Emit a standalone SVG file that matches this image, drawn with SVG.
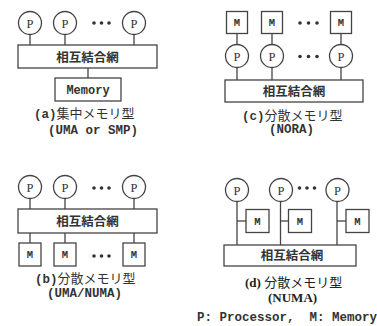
<svg xmlns="http://www.w3.org/2000/svg" width="377" height="326" viewBox="0 0 377 326">
<style>
.ln{stroke:#444;stroke-width:1.3;fill:none}
.bx{stroke:#444;stroke-width:1.3;fill:#fff}
.dot{fill:#333}
.p{font-family:"Liberation Serif",serif;font-size:12.5px;fill:#333;text-anchor:middle}
.m{font-family:"Liberation Mono",monospace;font-size:10.5px;font-weight:bold;fill:#333;text-anchor:middle}
.net{font-family:"Noto Sans CJK JP",sans-serif;font-size:12.5px;font-weight:bold;fill:#333;text-anchor:middle}
.mem{font-family:"Liberation Mono",monospace;font-size:12px;font-weight:bold;fill:#333;text-anchor:middle}
.lab{font-family:"Liberation Mono","Noto Sans CJK JP",monospace;font-size:12.5px;font-weight:bold;fill:#333}
.jp{font-family:"Noto Sans CJK JP",sans-serif;font-weight:normal;font-size:13px}
.serif{font-family:"Liberation Serif","Noto Sans CJK JP",serif;font-size:13px;font-weight:bold;fill:#222}
.note{font-family:"Liberation Mono",monospace;font-size:12.5px;font-weight:bold;fill:#333;white-space:pre}
</style>
<rect width="377" height="326" fill="#fff"/>
<g id="connectors">
  <line class="ln" x1="30" y1="34.5" x2="30" y2="45"/>
  <line class="ln" x1="65" y1="34.5" x2="65" y2="45"/>
  <line class="ln" x1="134" y1="34.5" x2="134" y2="45"/>
  <line class="ln" x1="88" y1="68" x2="88" y2="78"/>
  <line class="ln" x1="237" y1="33.5" x2="237" y2="44.5"/>
  <line class="ln" x1="272" y1="33.5" x2="272" y2="44.5"/>
  <line class="ln" x1="341" y1="33.5" x2="341" y2="44.5"/>
  <line class="ln" x1="237" y1="67.5" x2="237" y2="80"/>
  <line class="ln" x1="272" y1="67.5" x2="272" y2="80"/>
  <line class="ln" x1="341" y1="67.5" x2="341" y2="80"/>
  <line class="ln" x1="30" y1="198.5" x2="30" y2="209"/>
  <line class="ln" x1="65" y1="198.5" x2="65" y2="209"/>
  <line class="ln" x1="134" y1="198.5" x2="134" y2="209"/>
  <line class="ln" x1="30" y1="233" x2="30" y2="243"/>
  <line class="ln" x1="65" y1="233" x2="65" y2="243"/>
  <line class="ln" x1="134" y1="233" x2="134" y2="243"/>
  <line class="ln" x1="237" y1="201.5" x2="237" y2="245"/>
  <line class="ln" x1="280.5" y1="201.5" x2="280.5" y2="245"/>
  <line class="ln" x1="337" y1="201.5" x2="337" y2="245"/>
  <line class="ln" x1="237" y1="221" x2="246" y2="221"/>
  <line class="ln" x1="280.5" y1="221" x2="288.5" y2="221"/>
  <line class="ln" x1="337" y1="221" x2="346" y2="221"/>
</g>
<g id="a">
  <g id="a-p1"><circle class="bx" cx="30" cy="23" r="11.5"/><text class="p" x="30" y="27.5">P</text></g>
  <g id="a-p2"><circle class="bx" cx="65" cy="23" r="11.5"/><text class="p" x="65" y="27.5">P</text></g>
  <g id="a-p3"><circle class="bx" cx="134" cy="23" r="11.5"/><text class="p" x="134" y="27.5">P</text></g>
  <circle class="dot" cx="94" cy="23" r="1.8"/><circle class="dot" cx="101.5" cy="23" r="1.8"/><circle class="dot" cx="109" cy="23" r="1.8"/>
  <g id="a-net"><rect class="bx" x="18" y="45" width="139" height="23"/><text class="net" x="87.5" y="61.5">相互結合網</text></g>
  <g id="a-mem"><rect class="bx" x="55" y="78" width="66" height="23"/><text class="mem" x="88" y="94">Memory</text></g>
  <text class="lab" x="34" y="118">(a)<tspan class="jp">集中メモリ型</tspan></text>
  <text class="lab" x="48" y="134">(UMA or SMP)</text>
</g>
<g id="c">
  <g id="c-m1"><rect class="bx" x="226.5" y="11.5" width="21" height="22"/><text class="m" x="237" y="26">M</text></g>
  <g id="c-m2"><rect class="bx" x="261.5" y="11.5" width="21" height="22"/><text class="m" x="272" y="26">M</text></g>
  <g id="c-m3"><rect class="bx" x="330.5" y="11.5" width="21" height="22"/><text class="m" x="341" y="26">M</text></g>
  <circle class="dot" cx="300" cy="23" r="1.8"/><circle class="dot" cx="308.5" cy="23" r="1.8"/><circle class="dot" cx="317" cy="23" r="1.8"/>
  <g id="c-p1"><circle class="bx" cx="237" cy="56" r="11.5"/><text class="p" x="237" y="60.5">P</text></g>
  <g id="c-p2"><circle class="bx" cx="272" cy="56" r="11.5"/><text class="p" x="272" y="60.5">P</text></g>
  <g id="c-p3"><circle class="bx" cx="341" cy="56" r="11.5"/><text class="p" x="341" y="60.5">P</text></g>
  <circle class="dot" cx="300" cy="56.5" r="1.8"/><circle class="dot" cx="308.5" cy="56.5" r="1.8"/><circle class="dot" cx="317" cy="56.5" r="1.8"/>
  <g id="c-net"><rect class="bx" x="225" y="80" width="138" height="22"/><text class="net" x="294" y="95.5">相互結合網</text></g>
  <text class="lab" x="242" y="119.5">(c)<tspan class="jp">分散メモリ型</tspan></text>
  <text class="lab" x="269" y="133">(NORA)</text>
</g>
<g id="b">
  <g id="b-p1"><circle class="bx" cx="30" cy="187" r="11.5"/><text class="p" x="30" y="191.5">P</text></g>
  <g id="b-p2"><circle class="bx" cx="65" cy="187" r="11.5"/><text class="p" x="65" y="191.5">P</text></g>
  <g id="b-p3"><circle class="bx" cx="134" cy="187" r="11.5"/><text class="p" x="134" y="191.5">P</text></g>
  <circle class="dot" cx="94" cy="188" r="1.8"/><circle class="dot" cx="101.5" cy="188" r="1.8"/><circle class="dot" cx="109" cy="188" r="1.8"/>
  <g id="b-net"><rect class="bx" x="18" y="209" width="139" height="24"/><text class="net" x="87.5" y="225.5">相互結合網</text></g>
  <g id="b-m1"><rect class="bx" x="19" y="243" width="22" height="23"/><text class="m" x="30" y="258">M</text></g>
  <g id="b-m2"><rect class="bx" x="54" y="243" width="22" height="23"/><text class="m" x="65" y="258">M</text></g>
  <g id="b-m3"><rect class="bx" x="123" y="243" width="22" height="23"/><text class="m" x="134" y="258">M</text></g>
  <circle class="dot" cx="94" cy="256" r="1.8"/><circle class="dot" cx="101.5" cy="256" r="1.8"/><circle class="dot" cx="109" cy="256" r="1.8"/>
  <text class="lab" x="35" y="282.5">(b)<tspan class="jp">分散メモリ型</tspan></text>
  <text class="lab" x="47" y="296.5">(UMA/NUMA)</text>
</g>
<g id="d">
  <g id="d-p1"><circle class="bx" cx="237" cy="190" r="11.5"/><text class="p" x="237" y="194.5">P</text></g>
  <g id="d-p2"><circle class="bx" cx="281" cy="190" r="11.5"/><text class="p" x="281" y="194.5">P</text></g>
  <g id="d-p3"><circle class="bx" cx="337.5" cy="190" r="11.5"/><text class="p" x="337.5" y="194.5">P</text></g>
  <circle class="dot" cx="299.5" cy="188" r="1.8"/><circle class="dot" cx="307" cy="188" r="1.8"/><circle class="dot" cx="314.5" cy="188" r="1.8"/>
  <g id="d-m1"><rect class="bx" x="246" y="209.5" width="23" height="23"/><text class="m" x="257.5" y="225">M</text></g>
  <g id="d-m2"><rect class="bx" x="288.5" y="209.5" width="23" height="23"/><text class="m" x="300" y="225">M</text></g>
  <g id="d-m3"><rect class="bx" x="346" y="209.5" width="23" height="23"/><text class="m" x="357.5" y="225">M</text></g>
  <g id="d-net"><rect class="bx" x="224" y="245" width="132" height="21"/><text class="net" x="292" y="260">相互結合網</text></g>
  <text class="serif" x="245" y="286.5">(d) <tspan class="jp">分散メモリ型</tspan></text>
  <text class="serif" x="268" y="302">(NUMA)</text>
</g>
<text class="note" x="197" y="320.5">P: Processor,  M: Memory</text>
</svg>
